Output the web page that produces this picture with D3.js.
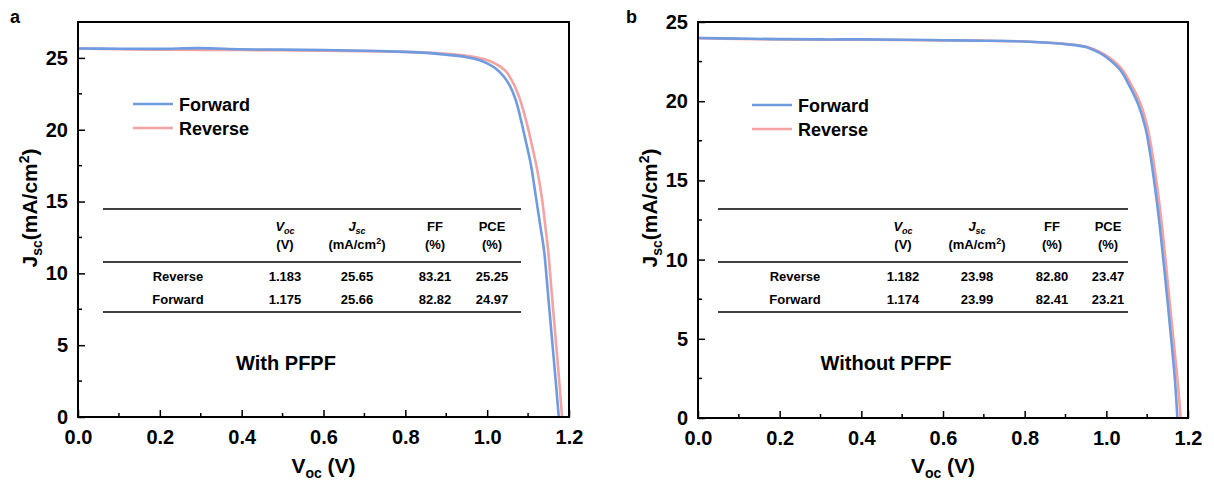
<!DOCTYPE html>
<html><head><meta charset="utf-8">
<script src="https://cdn.jsdelivr.net/npm/d3@7"></script>
<style>
html,body{margin:0;padding:0;background:#fff;}
svg{display:block;font-family:"Liberation Sans",Arial,sans-serif;}
</style></head>
<body>
<svg id="chart" width="1214" height="484"></svg>
<script>
// ---------- DATA ----------
const xTicks = [0.0, 0.2, 0.4, 0.6, 0.8, 1.0, 1.2];
const seriesNames = ["Forward", "Reverse"];
const tableCols = ["Voc", "Jsc", "FF", "PCE"];
const tableUnits = ["(V)", "(mA/cm²)", "(%)", "(%)"];
const rowLabels = ["Reverse", "Forward"];

// Panel a (With PFPF)
const aForwardV = [0.00,0.10,0.20,0.30,0.40,0.50,0.60,0.70,0.80,0.85,0.90,0.95,0.98,1.00,1.02,1.04,1.055,1.07,1.082,1.094,1.107,1.115,1.123,1.131,1.139,1.148,1.157,1.166,1.175];
const aForwardJ = [25.66,25.64,25.63,25.68,25.60,25.58,25.55,25.50,25.42,25.35,25.22,25.05,24.85,24.62,24.28,23.72,23.08,22.05,20.75,19.25,17.55,16.10,14.60,13.10,11.60,8.80,5.90,3.00,0.00];
const aReverseV = [0.00,0.10,0.20,0.30,0.40,0.50,0.60,0.70,0.80,0.85,0.90,0.95,0.98,1.00,1.02,1.045,1.06,1.078,1.094,1.11,1.123,1.135,1.142,1.149,1.157,1.166,1.175,1.183];
const aReverseJ = [25.65,25.60,25.58,25.56,25.55,25.53,25.51,25.47,25.42,25.37,25.28,25.14,25.00,24.85,24.60,24.10,23.45,22.30,20.75,18.85,17.10,15.00,13.30,11.60,8.90,5.90,2.90,0.00];
const aTable = [["1.183","25.65","83.21","25.25"],["1.175","25.66","82.82","24.97"]];
const aYTicks = [0, 5, 10, 15, 20, 25];

// Panel b (Without PFPF)
const bForwardV = [0.00,0.10,0.20,0.30,0.40,0.50,0.60,0.70,0.80,0.85,0.90,0.95,0.98,1.00,1.034,1.058,1.078,1.095,1.107,1.119,1.131,1.143,1.156,1.168,1.174];
const bForwardJ = [23.99,23.95,23.92,23.90,23.90,23.88,23.85,23.82,23.77,23.70,23.60,23.42,23.10,22.78,21.97,20.90,19.80,18.40,16.75,14.60,12.10,9.15,5.76,2.40,0.00];
const bReverseV = [0.00,0.10,0.20,0.30,0.40,0.50,0.60,0.70,0.80,0.85,0.90,0.95,0.98,1.00,1.034,1.06,1.082,1.10,1.112,1.124,1.136,1.148,1.161,1.174,1.182];
const bReverseJ = [23.98,23.93,23.90,23.88,23.88,23.86,23.84,23.82,23.77,23.71,23.62,23.45,23.15,22.88,22.15,21.10,19.95,18.45,16.80,14.70,12.20,9.20,5.80,2.50,0.00];
const bTable = [["1.182","23.98","82.80","23.47"],["1.174","23.99","82.41","23.21"]];
const bYTicks = [0, 5, 10, 15, 20, 25];

const colors = {Forward: "#6f9be0", Reverse: "#f4a2a2"};

const panels = [
  {letter:"a", lx:10, x0:78, x1:569, yTop:22, yBot:417, yMax:27.5, yTicks:aYTicks,
   fwd:[aForwardV,aForwardJ], rev:[aReverseV,aReverseJ], table:aTable,
   legX:133, legY:104, tbl:{x0:103, x1:521, cols:[178,285,357,435,492]},
   note:"With PFPF", noteX:286, ylabX:37, ylabY:208},
  {letter:"b", lx:626, x0:698, x1:1188, yTop:22, yBot:418, yMax:25, yTicks:bYTicks,
   fwd:[bForwardV,bForwardJ], rev:[bReverseV,bReverseJ], table:bTable,
   legX:752, legY:105, tbl:{x0:718, x1:1128, cols:[795,903,977,1052,1108]},
   note:"Without PFPF", noteX:886, ylabX:657, ylabY:208}
];

const svg = d3.select("#chart");

panels.forEach(p => {
  const g = svg.append("g");
  const x = d3.scaleLinear().domain([0, 1.2]).range([p.x0, p.x1]);
  const y = d3.scaleLinear().domain([0, p.yMax]).range([p.yBot, p.yTop]);

  g.append("text").attr("x", p.lx).attr("y", 23).attr("font-size", 18).attr("font-weight","bold").text(p.letter);

  const xMinor = d3.range(0.1, 1.2, 0.2);
  const yMinor = d3.range(2.5, p.yMax, 5);
  g.selectAll(".xmin").data(xMinor).enter().append("line")
    .attr("x1", d=>x(d)).attr("x2", d=>x(d)).attr("y1", p.yBot).attr("y2", p.yBot-4)
    .attr("stroke","#000").attr("stroke-width",1.5);
  g.selectAll(".ymin").data(yMinor).enter().append("line")
    .attr("x1", p.x0).attr("x2", p.x0+4).attr("y1", d=>y(d)).attr("y2", d=>y(d))
    .attr("stroke","#000").attr("stroke-width",1.5);

  const xa = g.append("g").attr("transform", `translate(0,${p.yBot})`)
    .call(d3.axisBottom(x).tickValues(xTicks).tickFormat(d3.format(".1f")).tickSizeInner(-7).tickSizeOuter(0).tickPadding(13));
  xa.select(".domain").remove();
  xa.selectAll("line").attr("stroke-width",1.5);
  xa.selectAll("text").attr("font-size",20).attr("font-weight","bold").attr("fill","#000")
    .attr("font-family",'"Liberation Sans",Arial,sans-serif');

  const ya = g.append("g").attr("transform", `translate(${p.x0},0)`)
    .call(d3.axisLeft(y).tickValues(p.yTicks).tickSizeInner(-7).tickSizeOuter(0).tickPadding(10));
  ya.select(".domain").remove();
  ya.selectAll("line").attr("stroke-width",1.5);
  ya.selectAll("text").attr("font-size",20).attr("font-weight","bold").attr("fill","#000")
    .attr("font-family",'"Liberation Sans",Arial,sans-serif');

  const line = d3.line().x(d=>x(d[0])).y(d=>y(d[1])).curve(d3.curveCatmullRom.alpha(0.5));
  const toPts = s => s[0].map((v,i)=>[v, s[1][i]]);
  g.append("path").attr("d", line(toPts(p.rev))).attr("fill","none").attr("stroke",colors.Reverse).attr("stroke-width",2.6);
  g.append("path").attr("d", line(toPts(p.fwd))).attr("fill","none").attr("stroke",colors.Forward).attr("stroke-width",2.6);

  g.append("rect").attr("x", p.x0).attr("y", p.yTop).attr("width", p.x1-p.x0).attr("height", p.yBot-p.yTop)
    .attr("fill","none").attr("stroke","#000").attr("stroke-width",2);

  const xl = g.append("text").attr("x", (p.x0+p.x1)/2).attr("y", 473).attr("text-anchor","middle")
    .attr("font-size",21).attr("font-weight","bold");
  xl.append("tspan").text("V");
  xl.append("tspan").attr("font-size",14).attr("dy",5).text("oc");
  xl.append("tspan").attr("dy",-5).text(" (V)");

  const yl = g.append("text").attr("transform", `translate(${p.ylabX},${p.ylabY}) rotate(-90)`)
    .attr("text-anchor","middle").attr("font-size",21).attr("font-weight","bold");
  yl.append("tspan").text("J");
  yl.append("tspan").attr("font-size",14).attr("dy",5).text("sc");
  yl.append("tspan").attr("dy",-5).text("(mA/cm");
  yl.append("tspan").attr("font-size",14).attr("dy",-8).text("2");
  yl.append("tspan").attr("dy",8).text(")");

  seriesNames.forEach((s,i) => {
    const ly = p.legY + i*24;
    g.append("line").attr("x1", p.legX).attr("x2", p.legX+40).attr("y1", ly).attr("y2", ly)
      .attr("stroke", colors[s]).attr("stroke-width",2.6);
    g.append("text").attr("x", p.legX+46).attr("y", ly+7).attr("font-size",18).attr("font-weight","bold").text(s);
  });

  const t = p.tbl;
  [209, 262, 312].forEach(ly => {
    g.append("line").attr("x1", t.x0).attr("x2", t.x1).attr("y1", ly).attr("y2", ly)
      .attr("stroke","#000").attr("stroke-width",1.5);
  });
  tableCols.forEach((c,i) => {
    const cx = t.cols[i+1];
    const h = g.append("text").attr("x", cx).attr("y", 231).attr("text-anchor","middle")
      .attr("font-size",13).attr("font-weight","bold");
    if (c === "Voc" || c === "Jsc") {
      h.append("tspan").attr("font-style","italic").text(c[0]);
      h.append("tspan").attr("font-style","italic").attr("font-size",9).attr("dy",3).text(c.slice(1));
    } else {
      h.text(c);
    }
    const u = g.append("text").attr("x", cx).attr("y", 249).attr("text-anchor","middle")
      .attr("font-size",13).attr("font-weight","bold");
    if (tableUnits[i].includes("²")) {
      u.append("tspan").text("(mA/cm");
      u.append("tspan").attr("font-size",9).attr("dy",-5).text("2");
      u.append("tspan").attr("dy",5).text(")");
    } else u.text(tableUnits[i]);
  });
  rowLabels.forEach((r,ri) => {
    const ry = 281 + ri*23;
    g.append("text").attr("x", t.cols[0]).attr("y", ry).attr("text-anchor","middle")
      .attr("font-size",13).attr("font-weight","bold").text(r);
    p.table[ri].forEach((v,ci) => {
      g.append("text").attr("x", t.cols[ci+1]).attr("y", ry).attr("text-anchor","middle")
        .attr("font-size",13).attr("font-weight","bold").text(v);
    });
  });

  g.append("text").attr("x", p.noteX).attr("y", 370).attr("text-anchor","middle")
    .attr("font-size",20).attr("font-weight","bold").text(p.note);
});
</script>
</body></html>
